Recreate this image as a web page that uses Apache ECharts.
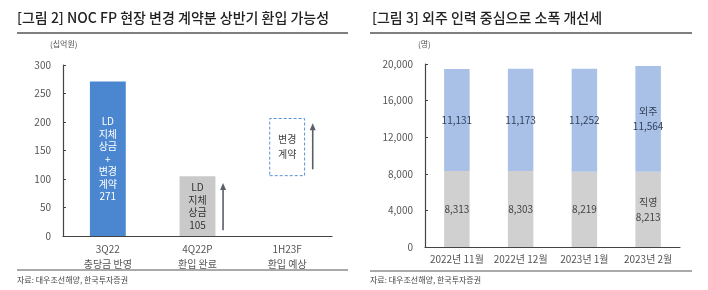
<!DOCTYPE html>
<html><head><meta charset="utf-8">
<script src="https://cdn.jsdelivr.net/npm/echarts@6/dist/echarts.min.js"></script>
<style>html,body{margin:0;padding:0;background:#fff}#c{width:708px;height:290px}</style>
</head><body><div id="c"></div>
<script>
// ---- Left chart data ----
const cats1 = ['3Q22\n충당금 반영', '4Q22P\n환입 완료', '1H23F\n환입 예상'];
const values1 = [271, 105];
const barLabels1 = ['LD\n지체\n상금\n+\n변경\n계약\n271', 'LD\n지체\n상금\n105'];
const boxRange = [105, 207];            // dashed box on 1H23F
const boxLabel = '변경\n계약';
const arrows1 = [[1, 10, 93], [2, 117, 198]]; // [category index, from, to]
const yTicks1 = {min: 0, max: 300, interval: 50};

// ---- Right chart data ----
const cats2 = ['2022년 11월', '2022년 12월', '2023년 1월', '2023년 2월'];
const direct = [8313, 8303, 8219, 8213];
const outsource = [11131, 11173, 11252, 11564];
const yTicks2 = {min: 0, max: 20000, interval: 4000};

const FONT = '"Noto Sans CJK KR", "Noto Sans", sans-serif';
const axisCol = '#444';
const lblCol = '#555';

const chart = echarts.init(document.getElementById('c'), null, {renderer: 'canvas'});

const arrowColor = '#59606a';
function renderArrow(params, api) {
  const c = api.value(0);
  const p0 = api.coord([c, api.value(1)]);
  const p1 = api.coord([c, api.value(2)]);
  const bw = api.size([1, 0])[0];
  const x = p0[0] + bw * 0.285;
  return {type: 'group', children: [
    {type: 'line', shape: {x1: x, y1: p0[1], x2: x, y2: p1[1] + 6}, style: {stroke: arrowColor, lineWidth: 1.6}},
    {type: 'polygon', shape: {points: [[x, p1[1]], [x - 3, p1[1] + 7], [x + 3, p1[1] + 7]]}, style: {fill: arrowColor}}
  ]};
}

const dash = (n) => Array.from({length: n}, () => '-');
const baseSeries = dash(3); baseSeries[2] = boxRange[0];
const boxSeries = dash(3); boxSeries[2] = boxRange[1] - boxRange[0];

const option = {
  animation: false,
  textStyle: {fontFamily: FONT},
  grid: [
    {left: 63, top: 65, width: 269, height: 171},
    {left: 425, top: 64, width: 255, height: 183}
  ],
  xAxis: [
    {type: 'category', gridIndex: 0, data: cats1,
     axisLine: {lineStyle: {color: axisCol, width: 1.2}},
     axisTick: {inside: true, length: 3, lineStyle: {color: axisCol}},
     axisLabel: {color: lblCol, fontSize: 10, lineHeight: 15, margin: 6, interval: 0}},
    {type: 'category', gridIndex: 1, data: cats2,
     axisLine: {lineStyle: {color: axisCol, width: 1.2}},
     axisTick: {inside: true, length: 3, lineStyle: {color: axisCol}},
     axisLabel: {color: lblCol, fontSize: 10, margin: 7, interval: 0}}
  ],
  yAxis: [
    {type: 'value', gridIndex: 0, min: yTicks1.min, max: yTicks1.max, interval: yTicks1.interval,
     axisLine: {show: true, lineStyle: {color: axisCol, width: 1.2}},
     axisTick: {show: true, inside: true, length: 3, lineStyle: {color: axisCol}},
     splitLine: {show: false},
     axisLabel: {color: lblCol, fontSize: 10, margin: 12}},
    {type: 'value', gridIndex: 1, min: yTicks2.min, max: yTicks2.max, interval: yTicks2.interval,
     axisLine: {show: true, lineStyle: {color: axisCol, width: 1.2}},
     axisTick: {show: true, inside: true, length: 3, lineStyle: {color: axisCol}},
     splitLine: {show: false},
     axisLabel: {color: lblCol, fontSize: 10, margin: 12,
       formatter: v => v.toLocaleString('en-US')}}
  ],
  series: [
    {type: 'bar', name: 'main', xAxisIndex: 0, yAxisIndex: 0, stack: 'L', barWidth: '40%',
     data: values1.map((v, i) => ({value: v,
       itemStyle: {color: i === 0 ? '#4a87d0' : '#c9c9c9'},
       label: {show: true, position: 'inside', formatter: barLabels1[i],
         color: i === 0 ? '#fff' : '#333', fontSize: 10, lineHeight: 12.5}}))
       .concat(['-'])},
    {type: 'bar', name: 'boxBase', xAxisIndex: 0, yAxisIndex: 0, stack: 'L', barWidth: '40%',
     itemStyle: {color: 'transparent'}, data: baseSeries, silent: true},
    {type: 'bar', name: 'box', xAxisIndex: 0, yAxisIndex: 0, stack: 'L', barWidth: '40%',
     itemStyle: {color: '#fff', borderColor: '#5d8fd4', borderType: [3, 2], borderWidth: 1},
     label: {show: true, position: 'inside', formatter: boxLabel, color: '#444', fontSize: 10, lineHeight: 15},
     data: boxSeries},
    {type: 'custom', xAxisIndex: 0, yAxisIndex: 0, renderItem: renderArrow,
     encode: {x: 0, y: [1, 2]}, data: arrows1, z: 5},

    {type: 'bar', name: '직영', xAxisIndex: 1, yAxisIndex: 1, stack: 'R', barWidth: '40%',
     itemStyle: {color: '#d0d0d0'},
     label: {show: true, position: 'inside', color: '#444', fontSize: 10, lineHeight: 15,
       formatter: p => (p.dataIndex === direct.length - 1 ? '직영\n' : '') + p.value.toLocaleString('en-US')},
     data: direct},
    {type: 'bar', name: '외주', xAxisIndex: 1, yAxisIndex: 1, stack: 'R', barWidth: '40%',
     itemStyle: {color: '#a9c1e6'},
     label: {show: true, position: 'inside', color: '#34425e', fontSize: 10, lineHeight: 15,
       formatter: p => (p.dataIndex === outsource.length - 1 ? '외주\n' : '') + p.value.toLocaleString('en-US')},
     data: outsource}
  ],
  graphic: [
    {type: 'text', left: 17, top: 11, style: {text: '[그림 2] NOC FP 현장 변경 계약분 상반기 환입 가능성', font: '500 14px ' + FONT, fill: '#222'}},
    {type: 'text', left: 372, top: 11, style: {text: '[그림 3] 외주 인력 중심으로 소폭 개선세', font: '500 14px ' + FONT, fill: '#222'}},
    {type: 'line', shape: {x1: 17, y1: 33, x2: 348, y2: 33}, style: {stroke: '#555', lineWidth: 1.5}},
    {type: 'line', shape: {x1: 370, y1: 33, x2: 692, y2: 33}, style: {stroke: '#555', lineWidth: 1.5}},
    {type: 'line', shape: {x1: 17, y1: 270, x2: 348, y2: 270}, style: {stroke: '#555', lineWidth: 1}},
    {type: 'line', shape: {x1: 370, y1: 271, x2: 692, y2: 271}, style: {stroke: '#555', lineWidth: 1}},
    {type: 'text', left: 50, top: 40, style: {text: '(십억원)', font: '8px ' + FONT, fill: '#555'}},
    {type: 'text', left: 418, top: 40, style: {text: '(명)', font: '8px ' + FONT, fill: '#555'}},
    {type: 'text', left: 17, top: 276, style: {text: '자료: 대우조선해양, 한국투자증권', font: '8px ' + FONT, fill: '#444'}},
    {type: 'text', left: 370, top: 276, style: {text: '자료: 대우조선해양, 한국투자증권', font: '8px ' + FONT, fill: '#444'}}
  ]
};
chart.setOption(option);
</script></body></html>
